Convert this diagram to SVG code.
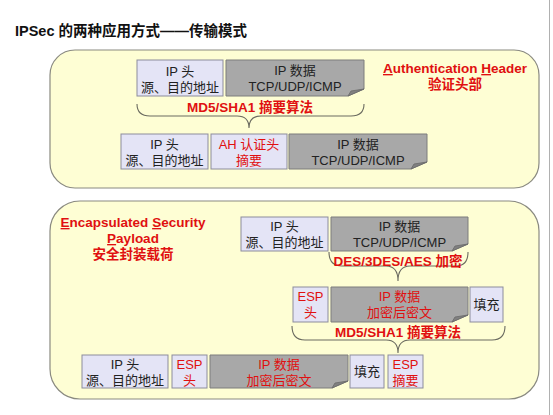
<svg xmlns="http://www.w3.org/2000/svg" width="553" height="415" viewBox="0 0 553 415">
<defs>
<style>
text{font-family:"Liberation Sans","Noto Sans CJK SC",sans-serif;font-size:13px;text-anchor:middle;fill:#222}
.r{fill:#e01010}
.b{font-weight:bold;font-size:13.5px}
.panel{fill:#fefed4;stroke:#8a8a80;stroke-width:1.2}
.lv{fill:#e4e4f6;stroke:#8c8c9c;stroke-width:1}
.gy{fill:#a8a8a8;stroke:#7c7c7c;stroke-width:1}
.fold{fill:#808080;stroke:#6a6a6a;stroke-width:0.8}
.brace{fill:none;stroke:#6b6b60;stroke-width:1.1}
.u{text-decoration:underline}
</style>
</defs>
<rect x="0" y="0" width="553" height="415" fill="#ffffff"/>
<line x1="549.5" y1="0" x2="549.5" y2="415" stroke="#b0b0b0" stroke-width="1"/>
<text x="15" y="36" style="text-anchor:start;font-size:14.5px;font-weight:bold;fill:#111">IPSec 的两种应用方式——传输模式</text>

<g id="panel-ah">
<rect class="panel" x="50" y="50" width="489" height="138" rx="25"/>
</g>
<g id="panel-esp">
<rect class="panel" x="50" y="201" width="489" height="198" rx="30"/>
</g>

<g id="ah-label">
<text class="r b" x="455" y="73"><tspan class="u">A</tspan>uthentication <tspan class="u">H</tspan>eader</text>
<text class="r b" x="455" y="89">验证头部</text>
</g>

<g id="ah-ip1">
<rect class="lv" x="137" y="60" width="86" height="36"/>
<text x="180" y="76">IP 头</text>
<text x="180" y="92">源、目的地址</text>
</g>
<g id="ah-data1">
<path class="gy" d="M226,60 H364 V89 L348,96 H226 Z"/>
<path class="fold" d="M348,96 L351,91 L364,89 Z"/>
<text x="295" y="75">IP 数据</text>
<text x="295" y="91">TCP/UDP/ICMP</text>
</g>

<g id="ah-ip2">
<rect class="lv" x="121" y="134" width="87" height="35"/>
<text x="164.5" y="149">IP 头</text>
<text x="164.5" y="165">源、目的地址</text>
</g>
<g id="ah-auth">
<rect class="lv" x="211" y="134" width="76" height="35"/>
<text class="r" x="249" y="149">AH 认证头</text>
<text class="r" x="249" y="165">摘要</text>
</g>
<g id="ah-data2">
<path class="gy" d="M289,134 H427 V162 L411,169 H289 Z"/>
<path class="fold" d="M411,169 L414,164 L427,162 Z"/>
<text x="358" y="149">IP 数据</text>
<text x="358" y="165">TCP/UDP/ICMP</text>
</g>

<g id="esp-label">
<text class="r b" x="133" y="227"><tspan class="u">E</tspan>ncapsulated <tspan class="u">S</tspan>ecurity</text>
<text class="r b" x="133" y="243"><tspan class="u">P</tspan>ayload</text>
<text class="r b" x="133" y="259">安全封装载荷</text>
</g>

<g id="esp-ip1">
<rect class="lv" x="241" y="217" width="87" height="34"/>
<text x="284.5" y="231">IP 头</text>
<text x="284.5" y="247">源、目的地址</text>
</g>
<g id="esp-data1">
<path class="gy" d="M331,217 H468 V244 L452,251 H331 Z"/>
<path class="fold" d="M452,251 L455,246 L468,244 Z"/>
<text x="399.5" y="231">IP 数据</text>
<text x="399.5" y="247">TCP/UDP/ICMP</text>
</g>

<g id="esp-hdr2">
<rect class="lv" x="293" y="287" width="35" height="35"/>
<text class="r" x="310.5" y="301">ESP</text>
<text class="r" x="310.5" y="317">头</text>
</g>
<g id="esp-data2">
<path class="gy" d="M331,287 H468 V315 L452,322 H331 Z"/>
<path class="fold" d="M452,322 L455,317 L468,315 Z"/>
<text class="r" x="399.5" y="301">IP 数据</text>
<text class="r" x="399.5" y="317">加密后密文</text>
</g>
<g id="esp-pad2">
<rect class="lv" x="470" y="287" width="33" height="35"/>
<text x="486.5" y="309">填充</text>
</g>

<g id="esp-ip3">
<rect class="lv" x="82" y="355" width="86" height="33"/>
<text x="125" y="369">IP 头</text>
<text x="125" y="385">源、目的地址</text>
</g>
<g id="esp-hdr3">
<rect class="lv" x="172" y="355" width="35" height="33"/>
<text class="r" x="189.5" y="369">ESP</text>
<text class="r" x="189.5" y="385">头</text>
</g>
<g id="esp-data3">
<path class="gy" d="M210,355 H348 V381 L332,388 H210 Z"/>
<path class="fold" d="M332,388 L335,383 L348,381 Z"/>
<text class="r" x="279" y="369">IP 数据</text>
<text class="r" x="279" y="385">加密后密文</text>
</g>
<g id="esp-pad3">
<rect class="lv" x="350" y="355" width="34" height="33"/>
<text x="367" y="376">填充</text>
</g>
<g id="esp-digest3">
<rect class="lv" x="388" y="355" width="35" height="33"/>
<text class="r" x="405.5" y="369">ESP</text>
<text class="r" x="405.5" y="385">摘要</text>
</g>

<g id="connectors">
<path class="brace" d="M137,104 Q137,116 150,116 H237 Q249,116 249,128 Q249,116 261,116 H351 Q364,116 364,104"/>
<text class="r b" x="250" y="112">MD5/SHA1 摘要算法</text>
<path class="brace" d="M329,252 Q329,266 342,266 H386 Q398,266 398,281 Q398,266 410,266 H456 Q468,266 468,252"/>
<text class="r b" x="398" y="266">DES/3DES/AES 加密</text>
<path class="brace" d="M292,326 Q292,340 305,340 H386 Q398,340 398,353 Q398,340 410,340 H492 Q505,340 505,326"/>
<text class="r b" x="398" y="337">MD5/SHA1 摘要算法</text>
</g>
</svg>
